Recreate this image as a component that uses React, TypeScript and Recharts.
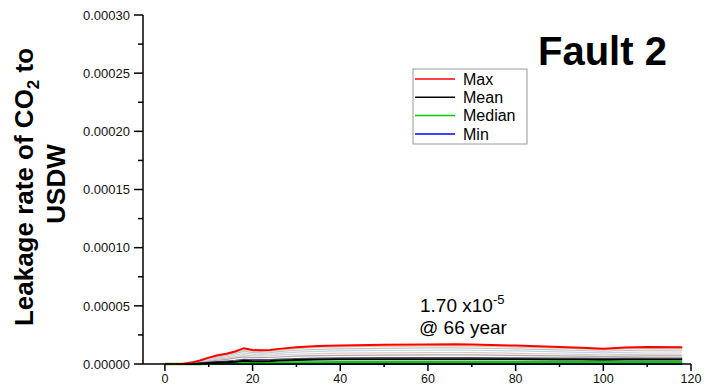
import React from 'react';
import { LineChart, Line, XAxis, YAxis } from 'recharts';

// time in years, leakage rates in units of 1e-5
const years = [0, 4, 6, 8, 10, 12, 14, 16, 18, 20, 22, 24, 26, 30, 35, 40, 50, 60, 66, 70, 80, 90, 95, 100, 105, 110, 118];
const maxRate = [0, 0, 0.12, 0.3, 0.55, 0.75, 0.88, 1.08, 1.36, 1.2, 1.18, 1.2, 1.3, 1.45, 1.55, 1.6, 1.65, 1.68, 1.7, 1.68, 1.58, 1.47, 1.4, 1.32, 1.42, 1.47, 1.45];
const meanRate = [0, 0, 0.01, 0.04, 0.08, 0.12, 0.16, 0.2, 0.27, 0.24, 0.24, 0.26, 0.3, 0.35, 0.38, 0.4, 0.41, 0.41, 0.41, 0.41, 0.4, 0.39, 0.38, 0.37, 0.38, 0.39, 0.39];
const medianRate = [0, 0, 0, 0, 0.03, 0.04, 0.06, 0.08, 0.1, 0.1, 0.1, 0.11, 0.11, 0.12, 0.13, 0.15, 0.15, 0.15, 0.15, 0.15, 0.15, 0.15, 0.15, 0.15, 0.15, 0.15, 0.15];
const minRate = [0, 0, 0, 0, 0, 0, 0, 0, 0, 0, 0, 0, 0, 0, 0, 0, 0, 0, 0, 0, 0, 0, 0, 0, 0, 0, 0];

// individual realizations drawn underneath the statistics
const run1 = [0, 0, 0.1, 0.26, 0.5, 0.68, 0.8, 0.98, 1.24, 1.1, 1.08, 1.1, 1.2, 1.33, 1.42, 1.47, 1.52, 1.55, 1.56, 1.54, 1.45, 1.36, 1.3, 1.24, 1.3, 1.34, 1.34];
const run2 = [0, 0, 0.08, 0.22, 0.44, 0.6, 0.72, 0.88, 1.1, 0.98, 0.96, 0.98, 1.06, 1.18, 1.26, 1.3, 1.35, 1.38, 1.39, 1.37, 1.3, 1.22, 1.16, 1.1, 1.16, 1.2, 1.2];
const run3 = [0, 0, 0.06, 0.18, 0.37, 0.5, 0.6, 0.75, 0.95, 0.84, 0.82, 0.84, 0.92, 1.02, 1.08, 1.12, 1.16, 1.18, 1.19, 1.18, 1.12, 1.04, 1.0, 0.95, 1.0, 1.03, 1.03];
const run4 = [0, 0, 0.05, 0.14, 0.3, 0.42, 0.5, 0.62, 0.78, 0.7, 0.68, 0.7, 0.76, 0.84, 0.9, 0.93, 0.96, 0.98, 0.99, 0.98, 0.92, 0.86, 0.82, 0.78, 0.82, 0.85, 0.85];
const run5 = [0, 0, 0.03, 0.1, 0.22, 0.32, 0.4, 0.5, 0.62, 0.55, 0.54, 0.56, 0.6, 0.67, 0.72, 0.74, 0.77, 0.78, 0.79, 0.78, 0.74, 0.7, 0.67, 0.64, 0.67, 0.69, 0.69];
const run6 = [0, 0, 0.02, 0.06, 0.14, 0.2, 0.26, 0.32, 0.4, 0.37, 0.37, 0.38, 0.42, 0.47, 0.5, 0.52, 0.54, 0.55, 0.55, 0.55, 0.53, 0.51, 0.5, 0.48, 0.5, 0.51, 0.51];

const runs = [
  { key: 'run1', values: run1, color: '#d8c9a6' },
  { key: 'run2', values: run2, color: '#c4c4c4' },
  { key: 'run3', values: run3, color: '#b9d7e6' },
  { key: 'run4', values: run4, color: '#e6c3c3' },
  { key: 'run5', values: run5, color: '#a9a9a9' },
  { key: 'run6', values: run6, color: '#50506a' },
];

const stats = [
  { key: 'min', name: 'Min', values: minRate, color: '#0000ff', width: 2 },
  { key: 'median', name: 'Median', values: medianRate, color: '#00cc00', width: 2.5 },
  { key: 'mean', name: 'Mean', values: meanRate, color: '#000000', width: 2 },
  { key: 'max', name: 'Max', values: maxRate, color: '#ff0000', width: 2 },
];
const legendOrder = ['Max', 'Mean', 'Median', 'Min'];

const xTicks = [0, 10, 20, 30, 40, 50, 60, 70, 80, 90, 100, 110, 120];
const yTicks = [0, 2.5, 5, 7.5, 10, 12.5, 15, 17.5, 20, 22.5, 25, 27.5, 30];

const rows = years.map((year, i) => {
  const row: Record<string, number> = { year };
  runs.forEach((r) => (row[r.key] = r.values[i]));
  stats.forEach((s) => (row[s.key] = s.values[i]));
  return row;
});

const FONT = 'Arial, "Liberation Sans", Helvetica, sans-serif';

const YTick = (props: any) => {
  const { x, y, payload } = props;
  const major = payload.value % 5 === 0;
  return (
    <g>
      <line x1={x - (major ? 9 : 5)} x2={x} y1={y} y2={y} stroke="#000" strokeWidth={1.5} />
      {major && (
        <text x={x - 13} y={y} dy="0.36em" textAnchor="end" fontSize={13} fill="#111" fontFamily={FONT}>
          {(payload.value * 1e-5).toFixed(5)}
        </text>
      )}
    </g>
  );
};

const XTick = (props: any) => {
  const { x, y, payload } = props;
  const major = payload.value % 20 === 0;
  return (
    <g>
      <line x1={x} x2={x} y1={y} y2={y + (major ? 7 : 3)} stroke="#000" strokeWidth={1.5} />
      {major && (
        <text x={x} y={y + 19} textAnchor="middle" fontSize={12.5} fill="#111" fontFamily={FONT}>
          {payload.value}
        </text>
      )}
    </g>
  );
};

export default function App() {
  return (
    <div style={{ position: 'absolute', left: 0, top: 0, width: 706, height: 387, background: '#fff' }}>
      <LineChart width={706} height={387} data={rows} margin={{ top: 15, right: 15, bottom: 0, left: 0 }}>
        <XAxis
          dataKey="year"
          type="number"
          domain={[-5, 120]}
          ticks={xTicks}
          interval={0}
          height={23}
          tickSize={0}
          tickMargin={0}
          tickLine={false}
          tick={<XTick />}
          axisLine={{ stroke: '#000', strokeWidth: 1.5 }}
        />
        <XAxis
          xAxisId="top"
          orientation="top"
          dataKey="year"
          type="number"
          domain={[-5, 120]}
          height={0}
          tick={false}
          tickLine={false}
          axisLine={{ stroke: '#000', strokeWidth: 1.5 }}
        />
        <YAxis
          type="number"
          domain={[0, 30]}
          ticks={yTicks}
          interval={0}
          width={143}
          tickSize={0}
          tickMargin={0}
          tickLine={false}
          tick={<YTick />}
          axisLine={{ stroke: '#000', strokeWidth: 1.5 }}
        />
        <YAxis
          yAxisId="right"
          orientation="right"
          type="number"
          domain={[0, 30]}
          width={0}
          tick={false}
          tickLine={false}
          axisLine={{ stroke: '#000', strokeWidth: 1.5 }}
        />
        {runs.map((r) => (
          <Line
            key={r.key}
            dataKey={r.key}
            stroke={r.color}
            strokeWidth={1.2}
            dot={false}
            type="linear"
            isAnimationActive={false}
          />
        ))}
        {stats.map((s) => (
          <Line
            key={s.key}
            dataKey={s.key}
            name={s.name}
            stroke={s.color}
            strokeWidth={s.width}
            dot={false}
            type="linear"
            isAnimationActive={false}
          />
        ))}
      </LineChart>
      <svg
        width={706}
        height={387}
        style={{ position: 'absolute', left: 0, top: 0, pointerEvents: 'none' }}
        fontFamily={FONT}
      >
        <g transform="translate(33,187) rotate(-90)">
          <text textAnchor="middle" fontSize={26} fontWeight="bold" fill="#000">
            Leakage rate of CO
            <tspan fontSize={17} dy={6}>2</tspan>
            <tspan dy={-6}> to</tspan>
          </text>
        </g>
        <g transform="translate(65,184) rotate(-90)">
          <text textAnchor="middle" fontSize={26} fontWeight="bold" fill="#000">
            USDW
          </text>
        </g>
        <text x={538} y={65} fontSize={40} fontWeight="bold" fill="#000">
          Fault 2
        </text>
        <text x={420} y={312} fontSize={19} fill="#000">
          1.70 x10
          <tspan fontSize={13} dy={-8}>-5</tspan>
        </text>
        <text x={419} y={334} fontSize={19} fill="#000">
          @ 66 year
        </text>
        <rect x={413} y={69} width={114} height={75} fill="#fff" stroke="#999" strokeWidth={1} />
        {legendOrder.map((name, i) => {
          const s = stats.find((st) => st.name === name)!;
          const y = 79 + i * 18.3;
          return (
            <g key={name}>
              <line x1={415} x2={455} y1={y} y2={y} stroke={s.color} strokeWidth={1.5} />
              <text x={463} y={y} dy="0.36em" fontSize={16} fill="#000">
                {name}
              </text>
            </g>
          );
        })}
      </svg>
    </div>
  );
}
